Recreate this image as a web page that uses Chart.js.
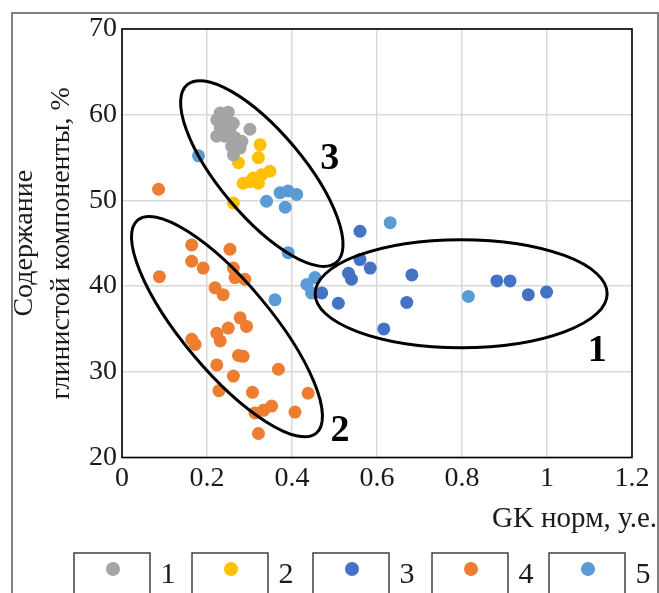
<!DOCTYPE html>
<html><head><meta charset="utf-8">
<script src="https://cdn.jsdelivr.net/npm/chart.js@4.4.0/dist/chart.umd.min.js"></script>
<style>html,body{margin:0;padding:0;background:#fff}</style>
</head><body>
<canvas id="c" width="659" height="593"></canvas>
<script>
// ---- data ----
const seriesLabels = ['1', '2', '3', '4', '5'];
const xTicks = [0, 0.2, 0.4, 0.6, 0.8, 1, 1.2];
const yTicks = [20, 30, 40, 50, 60, 70];

const s1x = [0.231,0.250,0.223,0.242,0.262,0.231,0.254,0.301,0.223,0.242,0.266,0.282,0.258,0.278,0.262];
const s1y = [60.2,60.3,59.4,59.4,59.0,58.5,58.3,58.3,57.5,57.5,57.3,56.9,56.3,56.1,55.3];

const s2x = [0.325,0.321,0.274,0.348,0.329,0.309,0.285,0.321,0.301,0.262];
const s2y = [56.5,55.0,54.4,53.4,53.0,52.6,52.0,52.0,52.2,49.7];

const s3x = [0.560,0.560,0.584,0.533,0.540,0.682,0.470,0.509,0.670,0.616,0.882,0.913,0.956,0.999];
const s3y = [46.4,43.1,42.1,41.5,40.8,41.3,39.2,38.0,38.1,35.0,40.6,40.6,39.0,39.3];

const s4x = [0.086,0.088,0.164,0.254,0.164,0.191,0.262,0.266,0.289,0.219,0.238,0.278,0.293,0.250,0.223,0.231,0.164,0.172,0.274,0.285,0.223,0.368,0.262,0.228,0.307,0.438,0.352,0.333,0.313,0.407,0.321];
const s4y = [51.3,41.1,44.8,44.3,42.9,42.1,42.1,41.0,40.8,39.8,39.0,36.3,35.3,35.1,34.5,33.6,33.8,33.2,31.9,31.8,30.8,30.3,29.5,27.8,27.6,27.5,26.0,25.5,25.2,25.3,22.8];

const s5x = [0.180,0.340,0.372,0.391,0.411,0.384,0.391,0.360,0.435,0.454,0.446,0.631,0.815];
const s5y = [55.2,49.9,50.9,51.1,50.7,49.2,43.9,38.4,40.2,41.0,39.2,47.4,38.8];

// group annotations (centre in data units)
const groupNames = ['1', '2', '3'];
const groupCx = [0.798, 0.247, 0.329];
const groupCy = [39.12, 35.27, 53.13];
const groupLabelX = [1.118, 0.513, 0.489];
const groupLabelY = [32.36, 23.02, 54.76];

// ---- styling ----
const colors = ['#A5A5A5', '#FFC000', '#4472C4', '#ED7D31', '#5B9BD5'];
const ellipseShape = [ {rx:146, ry:54, rot:0}, {rx:139, ry:44, rot:50}, {rx:116, ry:42, rot:50} ];
const SERIF = '"Liberation Serif", "Times New Roman", serif';
const TEXT = '#1a1a1a';

const xs = [s1x, s2x, s3x, s4x, s5x];
const ys = [s1y, s2y, s3y, s4y, s5y];
const datasets = seriesLabels.map((lab, i) => ({
  label: lab,
  data: xs[i].map((x, j) => ({x: x, y: ys[i][j]})),
  backgroundColor: colors[i],
  borderColor: colors[i],
  pointRadius: 6.5,
  pointHoverRadius: 6.5,
  pointBorderWidth: 0
}));

const decor = {
  id: 'decor',
  beforeDatasetsDraw(chart) {
    const {ctx, chartArea: a} = chart;
    ctx.save();
    ctx.strokeStyle = '#000';
    ctx.lineWidth = 1.6;
    ctx.strokeRect(a.left, a.top, a.right - a.left, a.bottom - a.top);
    ctx.restore();
  },
  afterDatasetsDraw(chart) {
    const {ctx, scales: {x, y}} = chart;
    ctx.save();
    ctx.strokeStyle = '#000';
    ctx.lineWidth = 3;
    groupNames.forEach((g, i) => {
      const px = x.getPixelForValue(groupCx[i]);
      const py = y.getPixelForValue(groupCy[i]);
      const e = ellipseShape[i];
      ctx.beginPath();
      ctx.ellipse(px, py, e.rx, e.ry, e.rot * Math.PI / 180, 0, Math.PI * 2);
      ctx.stroke();
    });
    ctx.fillStyle = '#000';
    ctx.font = 'bold 38px ' + SERIF;
    ctx.textAlign = 'center';
    ctx.textBaseline = 'middle';
    groupNames.forEach((g, i) => {
      ctx.fillText(g, x.getPixelForValue(groupLabelX[i]), y.getPixelForValue(groupLabelY[i]));
    });
    ctx.restore();
  },
  afterDraw(chart) {
    const {ctx} = chart;
    ctx.save();
    // x axis title
    ctx.fillStyle = TEXT;
    ctx.font = '29px ' + SERIF;
    ctx.textAlign = 'right';
    ctx.textBaseline = 'middle';
    ctx.fillText('GK норм, у.е.', 657, 519);
    // legend
    const lefts = [74, 192, 313, 432, 549];
    chart.data.datasets.forEach((ds, i) => {
      const l = lefts[i];
      ctx.strokeStyle = '#404040';
      ctx.lineWidth = 1.5;
      ctx.strokeRect(l, 553, 76, 60);
      ctx.fillStyle = ds.backgroundColor;
      ctx.beginPath();
      ctx.arc(l + 39, 569, 7, 0, Math.PI * 2);
      ctx.fill();
      ctx.fillStyle = TEXT;
      ctx.font = '30px ' + SERIF;
      ctx.textAlign = 'center';
      ctx.textBaseline = 'middle';
      ctx.fillText(ds.label, l + 94, 575);
    });
    // outer frame
    ctx.strokeStyle = '#808080';
    ctx.lineWidth = 2;
    ctx.strokeRect(12, 13, 646, 600);
    ctx.restore();
  }
};

new Chart(document.getElementById('c'), {
  type: 'scatter',
  data: { datasets },
  options: {
    responsive: false,
    animation: false,
    devicePixelRatio: 1,
    layout: { padding: { left: 0, top: 29, right: 27, bottom: 0 } },
    plugins: { legend: { display: false }, tooltip: { enabled: false } },
    events: [],
    scales: {
      x: {
        type: 'linear', min: 0, max: 1.2,
        afterBuildTicks: s => { s.ticks = xTicks.map(v => ({value: v})); },
        afterFit: s => { s.height = 135.5; },
        ticks: { callback: v => String(Math.round(v * 10) / 10), color: TEXT, padding: 4,
                 font: { family: SERIF, size: 28 }, maxRotation: 0, autoSkip: false },
        grid: { color: '#d9d9d9', lineWidth: 1.5, drawTicks: false },
        border: { display: false }
      },
      y: {
        type: 'linear', min: 20, max: 70,
        afterBuildTicks: s => { s.ticks = yTicks.map(v => ({value: v})); },
        afterFit: s => { s.width = 122; },
        ticks: { color: TEXT, padding: 5, font: { family: SERIF, size: 28 } },
        grid: { color: '#d9d9d9', lineWidth: 1.5, drawTicks: false },
        border: { display: false },
        title: { display: true, text: ['Содержание', 'глинистой компоненты, %'], color: TEXT,
                 font: { family: SERIF, size: 28, lineHeight: 37 / 28 }, padding: { top: 6.5, bottom: 0 } }
      }
    }
  },
  plugins: [decor]
});
</script>
</body></html>
